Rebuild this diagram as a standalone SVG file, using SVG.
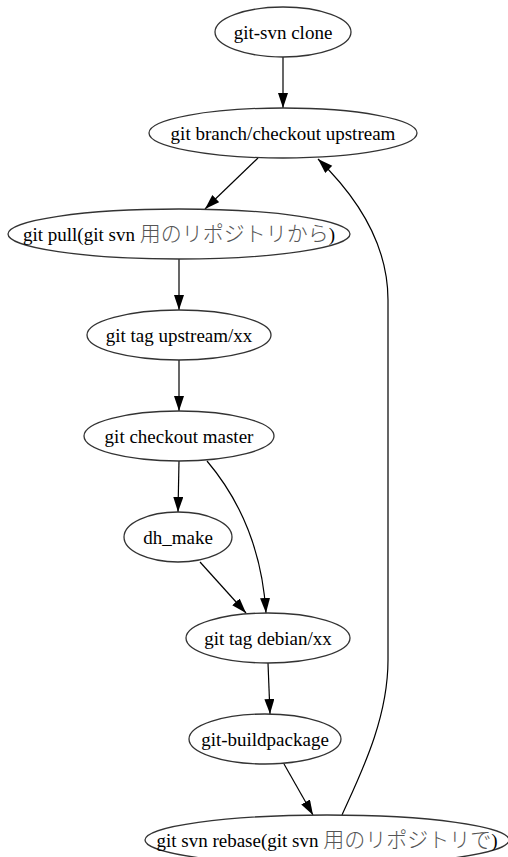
<svg xmlns="http://www.w3.org/2000/svg" width="508" height="857" viewBox="0 0 508 857">
<defs>
<style>
.n ellipse{fill:none;stroke:#333;stroke-width:1.3}
.n text{font-family:"Liberation Serif","Times New Roman",serif;font-size:19px;fill:#000;text-anchor:middle}
.j{font-family:"Noto Sans CJK JP",sans-serif;font-size:21px;fill:#555;font-weight:300}
.e path{fill:none;stroke:#000;stroke-width:1.2;marker-end:url(#a)}
</style>
<marker id="a" markerUnits="userSpaceOnUse" markerWidth="16" markerHeight="11" refX="15" refY="5" orient="auto">
<path d="M0,0 L15,5 L0,10 z" fill="#000"/>
</marker>
</defs>
<rect width="508" height="857" fill="#fff"/>
<g class="e" id="edges">
<path d="M283,57 L283,108"/>
<path d="M258,158 L205,209"/>
<path d="M179,259 L179,310"/>
<path d="M179,360 L179,411"/>
<path d="M179,461 L178,512"/>
<path d="M207,461 C240,500 262,550 266,613"/>
<path d="M200,562 L246,613"/>
<path d="M268,663 L270,714"/>
<path d="M284,764 L313,815"/>
<path d="M342,815 C360,775 388,720 388,660 L388,300 C388,240 352,192 318,159"/>
</g>
<g class="n" id="clone"><ellipse cx="283" cy="32" rx="68" ry="25"/><text x="283" y="39">git-svn clone</text></g>
<g class="n" id="branch"><ellipse cx="283" cy="133" rx="134" ry="25"/><text x="283" y="140">git branch/checkout upstream</text></g>
<g class="n" id="pull"><ellipse cx="179" cy="234" rx="171" ry="25"/><text x="179" y="241">git pull(git svn <tspan class="j">用のリポジトリから</tspan>)</text></g>
<g class="n" id="tagup"><ellipse cx="179" cy="335" rx="92" ry="25"/><text x="179" y="342">git tag upstream/xx</text></g>
<g class="n" id="master"><ellipse cx="179" cy="436" rx="95" ry="25"/><text x="179" y="443">git checkout master</text></g>
<g class="n" id="dhmake"><ellipse cx="178" cy="537" rx="54" ry="25"/><text x="178" y="544">dh_make</text></g>
<g class="n" id="tagdeb"><ellipse cx="268" cy="638" rx="82" ry="25"/><text x="268" y="645">git tag debian/xx</text></g>
<g class="n" id="build"><ellipse cx="265" cy="739" rx="76" ry="25"/><text x="265" y="746">git-buildpackage</text></g>
<g class="n" id="rebase"><ellipse cx="327" cy="840" rx="182" ry="25"/><text x="327" y="847">git svn rebase(git svn <tspan class="j">用のリポジトリで</tspan>)</text></g>
</svg>
